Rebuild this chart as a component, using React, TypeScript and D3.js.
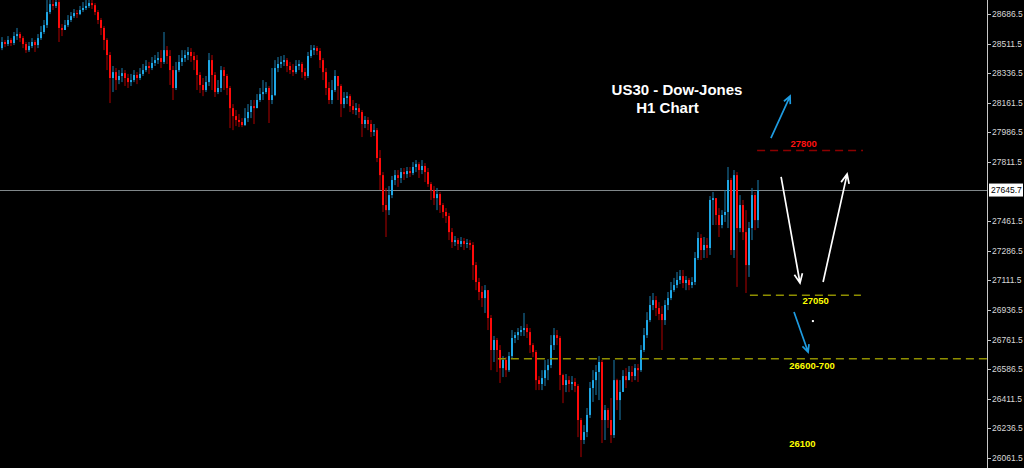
import React from 'react';
import * as d3 from 'd3';

const firstOpen = 28485;

const closes = [
  28521, 28509, 28533, 28515, 28556, 28568, 28544, 28509, 28473, 28497,
  28521, 28503, 28544, 28580, 28621, 28698, 28745, 28734, 28757, 28604,
  28592, 28621, 28651, 28674, 28692, 28686, 28710, 28722, 28734, 28751,
  28739, 28698, 28651, 28604, 28533, 28444, 28308, 28343, 28296, 28320,
  28337, 28308, 28284, 28296, 28326, 28308, 28332, 28355, 28379, 28367,
  28397, 28414, 28426, 28403, 28473, 28438, 28355, 28249, 28355, 28403,
  28426, 28444, 28462, 28438, 28414, 28326, 28267, 28237, 28284, 28414,
  28326, 28225, 28249, 28355, 28320, 28249, 28130, 28083, 28060, 28048,
  28030, 28071, 28107, 28142, 28130, 28178, 28213, 28225, 28249, 28178,
  28207, 28367, 28391, 28403, 28414, 28379, 28355, 28343, 28379, 28391,
  28343, 28320, 28438, 28473, 28485, 28468, 28414, 28343, 28249, 28178,
  28237, 28320, 28261, 28154, 28190, 28201, 28142, 28119, 28130, 28107,
  28036, 28060, 28036, 27989, 28000, 27835, 27734, 27557, 27527, 27616,
  27705, 27734, 27717, 27752, 27740, 27758, 27746, 27782, 27799, 27764,
  27788, 27752, 27681, 27646, 27598, 27622, 27557, 27516, 27492, 27397,
  27338, 27350, 27327, 27344, 27327, 27333, 27321, 27202, 27102, 27043,
  27007, 27054, 26889, 26700, 26759, 26700, 26593, 26641, 26581, 26664,
  26771, 26788, 26806, 26818, 26830, 26806, 26729, 26688, 26522, 26499,
  26534, 26581, 26611, 26729, 26788, 26771, 26552, 26493, 26522, 26499,
  26511, 26487, 26286, 26168, 26215, 26316, 26475, 26522, 26570, 26629,
  26286, 26345, 26286, 26197, 26522, 26404, 26452, 26546, 26522, 26570,
  26546, 26593, 26581, 26700, 26788, 26877, 26966, 26995, 26948, 26913,
  26877, 26966, 27007, 27054, 27084, 27114, 27137, 27096, 27114, 27084,
  27102, 27244, 27362, 27291, 27321, 27303, 27587, 27598, 27498, 27439,
  27498, 27516, 27705, 27291, 27734, 27421, 27557, 27397, 27202, 27421,
  27616, 27468, 27645.7,
];

const highs = [
  28550, 28533, 28556, 28544, 28580, 28604, 28580, 28556, 28521, 28521,
  28544, 28533, 28568, 28615, 28651, 28769, 28799, 28781, 28804, 28769,
  28627, 28651, 28680, 28698, 28716, 28710, 28734, 28757, 28769, 28787,
  28769, 28751, 28710, 28663, 28615, 28544, 28462, 28379, 28367, 28355,
  28367, 28355, 28332, 28332, 28355, 28343, 28367, 28391, 28414, 28403,
  28432, 28444, 28462, 28473, 28580, 28497, 28473, 28379, 28403, 28444,
  28473, 28473, 28491, 28485, 28462, 28444, 28343, 28308, 28320, 28456,
  28444, 28343, 28296, 28379, 28373, 28332, 28261, 28154, 28119, 28095,
  28071, 28130, 28154, 28178, 28178, 28213, 28249, 28296, 28284, 28261,
  28367, 28414, 28432, 28438, 28444, 28426, 28403, 28391, 28414, 28414,
  28403, 28367, 28462, 28503, 28503, 28497, 28485, 28426, 28367, 28284,
  28296, 28355, 28320, 28272, 28225, 28225, 28213, 28178, 28160, 28154,
  28119, 28083, 28077, 28060, 28036, 28012, 27882, 27752, 27658, 27669,
  27729, 27764, 27764, 27776, 27776, 27782, 27782, 27811, 27823, 27811,
  27823, 27805, 27776, 27693, 27669, 27658, 27634, 27569, 27539, 27510,
  27421, 27374, 27362, 27368, 27362, 27356, 27350, 27338, 27220, 27126,
  27078, 27084, 27054, 26907, 26783, 26771, 26729, 26664, 26658, 26688,
  26818, 26806, 26830, 26842, 26919, 26853, 26830, 26741, 26700, 26546,
  26581, 26641, 26646, 26788, 26830, 26818, 26783, 26560, 26558, 26546,
  26546, 26534, 26499, 26298, 26256, 26357, 26511, 26581, 26611, 26664,
  26641, 26375, 26357, 26416, 26641, 26530, 26522, 26581, 26593, 26605,
  26605, 26617, 26617, 26729, 26830, 26924, 27019, 27037, 27019, 26983,
  26960, 26995, 27043, 27102, 27126, 27161, 27173, 27173, 27137, 27126,
  27131, 27279, 27397, 27385, 27368, 27362, 27610, 27634, 27598, 27539,
  27527, 27646, 27782, 27717, 27764, 27752, 27616, 27587, 27527, 27457,
  27658, 27634, 27705,
];

const lows = [
  28473, 28491, 28497, 28497, 28503, 28533, 28521, 28485, 28456, 28462,
  28485, 28462, 28485, 28533, 28568, 28604, 28686, 28710, 28722, 28521,
  28556, 28592, 28609, 28639, 28663, 28663, 28680, 28698, 28710, 28722,
  28716, 28680, 28627, 28562, 28473, 28355, 28160, 28225, 28237, 28272,
  28284, 28261, 28249, 28261, 28284, 28272, 28296, 28320, 28343, 28332,
  28355, 28379, 28391, 28367, 28391, 28391, 28267, 28178, 28237, 28343,
  28379, 28403, 28414, 28403, 28355, 28237, 28219, 28201, 28225, 28261,
  28237, 28196, 28213, 28225, 28237, 28207, 28012, 28000, 28024, 28018,
  28018, 28024, 28048, 28071, 28036, 28130, 28166, 28178, 28213, 28042,
  28154, 28201, 28343, 28367, 28379, 28343, 28332, 28320, 28332, 28355,
  28308, 28296, 28308, 28426, 28444, 28444, 28367, 28296, 28207, 28154,
  28154, 28225, 28178, 28077, 28130, 28154, 28107, 28095, 28089, 28071,
  27959, 28012, 28000, 27959, 27965, 27811, 27646, 27516, 27368, 27498,
  27598, 27675, 27664, 27687, 27705, 27717, 27723, 27734, 27752, 27717,
  27740, 27693, 27664, 27587, 27557, 27527, 27510, 27480, 27451, 27350,
  27303, 27315, 27291, 27309, 27291, 27303, 27291, 27114, 27054, 26995,
  26954, 26919, 26818, 26581, 26629, 26570, 26505, 26540, 26540, 26570,
  26652, 26741, 26759, 26783, 26783, 26771, 26682, 26658, 26463, 26463,
  26463, 26487, 26522, 26593, 26700, 26729, 26463, 26386, 26451, 26451,
  26463, 26451, 26185, 26067, 26144, 26185, 26298, 26393, 26434, 26404,
  26150, 26168, 26239, 26150, 26180, 26345, 26286, 26452, 26475, 26522,
  26511, 26522, 26511, 26570, 26688, 26771, 26865, 26936, 26901, 26877,
  26700, 26848, 26936, 26995, 27043, 27066, 27090, 27066, 27054, 27054,
  27066, 27084, 27232, 27232, 27244, 27244, 27262, 27439, 27439, 27368,
  27420, 27457, 27421, 27262, 27244, 27073, 27397, 27350, 27037, 27132,
  27350, 27409, 27421,
];

const axisTicks = [
  28686.5, 28511.5, 28336.5, 28161.5, 27986.5, 27811.5, 27461.5, 27286.5,
  27111.5, 26936.5, 26761.5, 26586.5, 26411.5, 26236.5, 26061.5,
];

const currentPrice = 27645.7;

const levelNames = ['27800', '27050', '26600-700'];
const levelPrices = [27880, 27023, 26648];
const levelFrom = [251.7, 249.3, 165.3];
const levelTo = [287, 286.3, null as number | null];
const levelLabelIdx = [267.2, 271.2, 270];
const targetLabel = '26100';
const targetIdx = 266.8;
const targetPrice = 26100;

// arrows as [index1, price1, index2, price2]
const blueArrows = [
  [256.3, 27953, 262.7, 28201],
  [264, 26925, 268.7, 26688],
];
const whiteArrows = [
  [259.7, 27723, 266, 27096],
  [273.7, 27102, 281.7, 27740],
];
const dotPoint = [270.3, 26871];

const BLUE = '#1ea7e6';
const RED = '#ff0a0a';
const FONT = '"Liberation Sans", Arial, sans-serif';

function arrowPath(x1: number, y1: number, x2: number, y2: number, len: number, ang: number) {
  const a = Math.atan2(y2 - y1, x2 - x1);
  const p1 = [x2 - len * Math.cos(a - ang), y2 - len * Math.sin(a - ang)];
  const p2 = [x2 - len * Math.cos(a + ang), y2 - len * Math.sin(a + ang)];
  return `M${x1},${y1}L${x2},${y2}M${p1[0]},${p1[1]}L${x2},${y2}L${p2[0]},${p2[1]}`;
}

export default function App() {
  const W = 1024;
  const H = 468;
  const axisX = 987;
  const x = d3.scaleLinear().domain([0, closes.length - 1]).range([2, 758]);
  const y = d3.scaleLinear().domain([26061.5, 28686.5]).range([458, 14]);

  const candles = closes.map((c, i) => ({
    i,
    o: i === 0 ? firstOpen : closes[i - 1],
    c,
    h: highs[i],
    l: lows[i],
  }));

  const levelColors = ['#8c0000', '#8f8f00', '#8f8f00'];
  const labelColors = ['#ff1010', '#ffff00', '#ffff00'];
  const labelOffsets = [-3, 9, 10];

  return (
    <svg
      width={W}
      height={H}
      style={{ position: 'absolute', left: 0, top: 0, display: 'block', background: '#000' }}
    >
      <rect x={0} y={0} width={W} height={H} fill="#000" />
      <line
        x1={0}
        x2={axisX}
        y1={Math.round(y(currentPrice)) + 0.5}
        y2={Math.round(y(currentPrice)) + 0.5}
        stroke="#80878a"
        strokeWidth={1}
      />
      <g>
        {candles.map((d) => {
          const up = d.c >= d.o;
          const cx = x(d.i);
          const top = y(Math.max(d.o, d.c));
          const bot = y(Math.min(d.o, d.c));
          return (
            <g key={d.i}>
              <line
                x1={cx}
                x2={cx}
                y1={y(d.h)}
                y2={y(d.l)}
                stroke={up ? '#1a7fb0' : '#b00000'}
                strokeWidth={1}
              />
              <rect
                x={cx - 1}
                y={top}
                width={2}
                height={Math.max(1, bot - top)}
                fill={up ? BLUE : RED}
              />
            </g>
          );
        })}
      </g>
      {levelPrices.map((p, k) => {
        const yy = y(p);
        const x1 = x(levelFrom[k]);
        const x2 = levelTo[k] == null ? axisX : x(levelTo[k] as number);
        return (
          <g key={levelNames[k]}>
            <line x1={x1} x2={x2} y1={yy} y2={yy} stroke={levelColors[k]} strokeWidth={1.5} strokeDasharray="8,5" />
            <text
              x={x(levelLabelIdx[k])}
              y={yy + labelOffsets[k]}
              fill={labelColors[k]}
              fontFamily={FONT}
              fontWeight="bold"
              fontSize={9.5}
              textAnchor="middle"
            >
              {levelNames[k]}
            </text>
          </g>
        );
      })}
      <text
        x={x(targetIdx)}
        y={y(targetPrice) - 4}
        fill="#ffff00"
        fontFamily={FONT}
        fontWeight="bold"
        fontSize={9.5}
        textAnchor="middle"
      >
        {targetLabel}
      </text>
      {blueArrows.map((a, k) => (
        <path
          key={'b' + k}
          d={arrowPath(x(a[0]), y(a[1]), x(a[2]), y(a[3]), 8, 0.45)}
          stroke="#1e9be0"
          strokeWidth={1.7}
          fill="none"
        />
      ))}
      {whiteArrows.map((a, k) => (
        <path
          key={'w' + k}
          d={arrowPath(x(a[0]), y(a[1]), x(a[2]), y(a[3]), 10, 0.42)}
          stroke="#ffffff"
          strokeWidth={1.7}
          fill="none"
        />
      ))}
      <rect x={x(dotPoint[0]) - 1} y={y(dotPoint[1]) - 1} width={2} height={2} fill="#fff" />
      <text x={677} y={95} fill="#fff" fontFamily={FONT} fontWeight="bold" fontSize={15} textAnchor="middle">
        US30 - Dow-Jones
      </text>
      <text x={667.5} y={113} fill="#fff" fontFamily={FONT} fontWeight="bold" fontSize={15} textAnchor="middle">
        H1 Chart
      </text>
      <line x1={axisX + 0.5} x2={axisX + 0.5} y1={0} y2={H} stroke="#c8c8c8" strokeWidth={1} />
      {axisTicks.map((t) => (
        <g key={t}>
          <line x1={axisX} x2={axisX + 4} y1={Math.round(y(t)) + 0.5} y2={Math.round(y(t)) + 0.5} stroke="#c8c8c8" />
          <text x={axisX + 5} y={y(t) + 3} fill="#d8d8d8" fontFamily={FONT} fontSize={8.5}>
            {t.toFixed(1)}
          </text>
        </g>
      ))}
      <rect x={axisX + 2} y={y(currentPrice) - 6.5} width={34} height={13} fill="#fff" />
      <text x={axisX + 4} y={y(currentPrice) + 3} fill="#000" fontFamily={FONT} fontSize={8.5}>
        {currentPrice.toFixed(1)}
      </text>
    </svg>
  );
}
